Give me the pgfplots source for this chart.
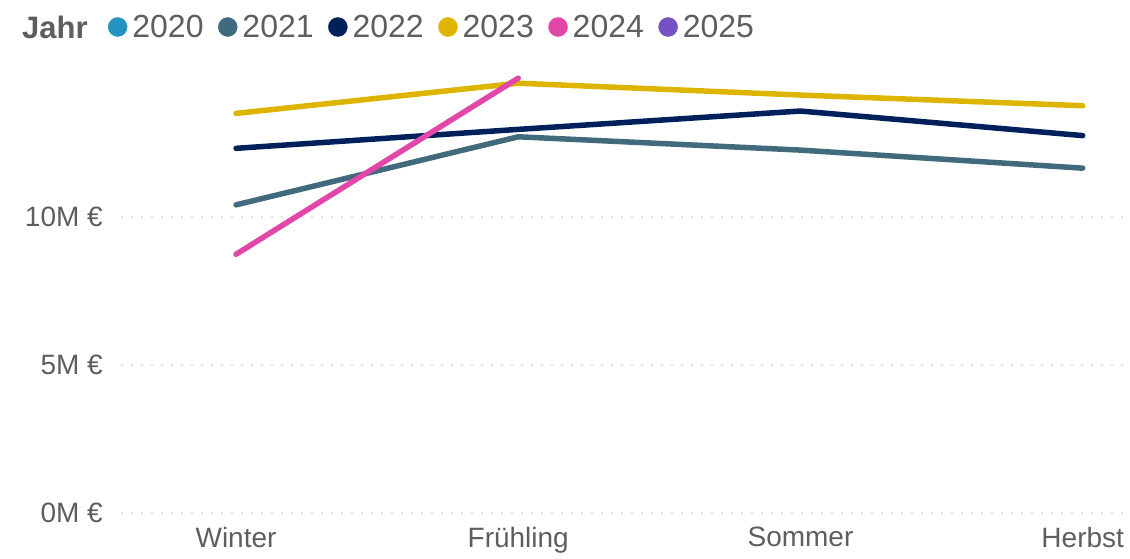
\documentclass[border=0pt]{standalone}
\usepackage{fontspec}
\setmainfont{Liberation Sans}
\usepackage{pgfplots}
\pgfplotsset{compat=1.18}
\definecolor{c2020}{HTML}{2394C0}
\definecolor{c2021}{HTML}{426A7D}
\definecolor{c2022}{HTML}{00205B}
\definecolor{c2023}{HTML}{DDB400}
\definecolor{c2024}{HTML}{E146A8}
\definecolor{c2025}{HTML}{7451C4}
\definecolor{txt}{HTML}{5E5E5E}
\definecolor{gridc}{HTML}{C4C4C4}
\tikzset{serie/.style={line width=5.5pt, line cap=round, line join=round}}
\begin{document}
\begin{tikzpicture}[x=1pt,y=1pt]
\useasboundingbox (0,0) rectangle (1130,558);
\begin{axis}[
    at={(122pt,45pt)}, anchor=south west,
    scale only axis,
    width=1003pt, height=444pt,
    xmin=-0.404, xmax=3.15,
    ymin=0, ymax=15,
    clip mode=individual,
    xtick={0,1,2,3},
    xticklabels={Winter,Frühling,Sommer,Herbst},
    ytick={0,5,10},
    yticklabels={0M €,5M €,10M €},
    axis line style={draw=none},
    tick style={draw=none},
    ticklabel style={font=\fontsize{28}{28}\selectfont, text=txt, inner sep=0pt},
    xticklabel style={anchor=north, yshift=-14pt},
    yticklabel style={anchor=east, xshift=-19pt},
    ymajorgrids,
    grid style={gridc, line width=1.8pt, line cap=round, dash pattern=on 0pt off 10pt},
    legend columns=-1,
    legend cell align=left,
    legend style={draw=none, fill=none, inner sep=0pt, outer sep=0pt,
        at={(-0.01396,1.0946)}, anchor=west,
        font=\fontsize{32}{32}\selectfont, text=txt,
        nodes={inner sep=0pt},
        /tikz/every odd column/.append style={column sep=5pt},
        /tikz/every even column/.append style={column sep=14.5pt}},
    legend image code/.code={\fill (9.5pt,0pt) circle (9.5pt);},
]
\addlegendimage{c2020, fill=c2020}
\addlegendentry{2020}
\addplot[c2021, serie, forget plot] coordinates {(0,10.41) (1,12.71) (2,12.26) (3,11.65)};
\addlegendimage{c2021, fill=c2021}
\addlegendentry{2021}
\addplot[c2022, serie, forget plot] coordinates {(0,12.32) (1,12.96) (2,13.58) (3,12.75)};
\addlegendimage{c2022, fill=c2022}
\addlegendentry{2022}
\addplot[c2023, serie, forget plot] coordinates {(0,13.50) (1,14.52) (2,14.12) (3,13.76)};
\addlegendimage{c2023, fill=c2023}
\addlegendentry{2023}
\addplot[c2024, serie, forget plot] coordinates {(0,8.74) (1,14.69)};
\addlegendimage{c2024, fill=c2024}
\addlegendentry{2024}
\addlegendimage{c2025, fill=c2025}
\addlegendentry{2025}
\node[anchor=base west, inner sep=0pt, font=\fontsize{31}{31}\selectfont\bfseries, text=txt]
    at (axis description cs:-0.0997,1.0698) {Jahr};
\end{axis}
\end{tikzpicture}
\end{document}
